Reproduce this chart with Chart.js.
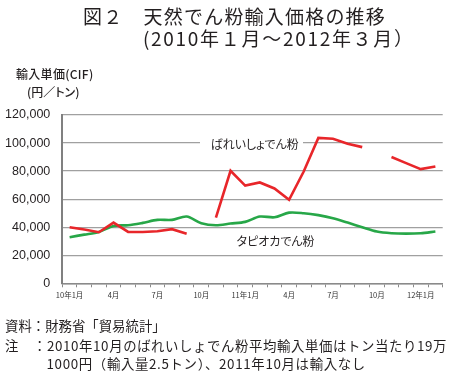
<!DOCTYPE html>
<html><head><meta charset="utf-8">
<script src="https://cdn.jsdelivr.net/npm/chart.js@4"></script>
<style>
html,body{margin:0;padding:0;background:#fff;}
#wrap{position:relative;width:451px;height:381px;overflow:hidden;font-family:"Noto Sans CJK JP",sans-serif;color:#231f20;}
canvas{position:absolute;left:0;top:0;}
.t{position:absolute;white-space:nowrap;line-height:1;}
.lab{font-size:12px;font-feature-settings:"palt";}
.ft{font-size:13.4px;}
</style></head><body>
<div id="wrap">
<canvas id="c" width="451" height="381"></canvas>
<div class="t" style="left:83px;top:5.5px;font-size:19px;font-weight:400;letter-spacing:1.2px;">図２　天然でん粉輸入価格の推移</div>
<div class="t" style="left:143px;top:27.5px;font-size:19px;font-weight:400;letter-spacing:1.7px;">(2010年１月～2012年３月）</div>
<div class="t" style="left:16px;top:68px;font-size:12px;font-weight:500;font-feature-settings:'palt';letter-spacing:0.3px;">輸入単価(CIF)</div>
<div class="t" style="left:27px;top:86px;font-size:12px;font-weight:500;font-feature-settings:'palt';">(円／トン)</div>
<div style="position:absolute;left:200px;top:140px;width:103px;height:7px;background:#fff;"></div>
<div class="t lab" style="left:210.5px;top:137.5px;">ばれいしょでん粉</div>
<div class="t lab" style="left:236.5px;top:235px;">タピオカでん粉</div>
<div class="t ft" style="left:5px;top:318.5px;">資料：財務省「貿易統計」</div>
<div class="t ft" style="left:5px;top:338.5px;letter-spacing:0.6px;">注　：2010年10月のばれいしょでん粉平均輸入単価はトン当たり19万</div>
<div class="t ft" style="left:46.5px;top:356.5px;letter-spacing:0.65px;">1000円（輸入量2.5トン）、2011年10月は輸入なし</div>
</div>
<script>
// Categories: Jan 2010 .. Feb 2012 (monthly)
const months = ['2010-01','2010-02','2010-03','2010-04','2010-05','2010-06','2010-07','2010-08','2010-09','2010-10','2010-11','2010-12',
                '2011-01','2011-02','2011-03','2011-04','2011-05','2011-06','2011-07','2011-08','2011-09','2011-10','2011-11','2011-12',
                '2012-01','2012-02'];
const tickLabels = ['10年1月','','','4月','','','7月','','','10月','','',
                    '11年1月','','','4月','','','7月','','','10月','','',
                    '12年1月',''];
// ばれいしょでん粉 (yen/ton); 2010-10 and 2011-10 omitted
const potatoStarch = [40000,38300,36400,43300,36600,36600,37100,38600,35400,null,46800,80200,
                      69700,71900,67600,59500,79700,103700,103100,99500,97100,null,90000,85700,
                      81400,83300];
// タピオカでん粉 (yen/ton)
const tapiocaStarch = [32900,34700,36600,40900,41400,43100,45200,45200,47600,42800,41400,42600,
                       43800,47600,47100,50400,50000,48600,46400,43300,40000,36900,35700,35400,
                       35700,36900];
const yTicks = [0,20000,40000,60000,80000,100000,120000];

new Chart(document.getElementById('c'), {
  type: 'line',
  data: {
    labels: months,
    datasets: [
      {label:'ばれいしょでん粉', data: potatoStarch, borderColor:'#e8262a', borderWidth:2.6, pointRadius:0, tension:0, spanGaps:false, fill:false},
      {label:'タピオカでん粉', data: tapiocaStarch, borderColor:'#27a748', borderWidth:2.6, pointRadius:0, tension:0.3, fill:false}
    ]
  },
  options: {
    responsive:false, animation:false, devicePixelRatio:1,
    layout:{padding:{top:115,left:0,right:8.3,bottom:77.7}},
    plugins:{legend:{display:false}, tooltip:{enabled:false}, title:{display:false}},
    scales:{
      x:{
        type:'category', offset:true,
        grid:{offset:true, drawOnChartArea:false, drawTicks:true, tickLength:4, color:'#8a8a8a', lineWidth:1},
        border:{display:true, color:'#8a8a8a', width:1.5},
        ticks:{autoSkip:false, maxRotation:0, minRotation:0, padding:3, color:'#333',
               font:{size:7.5, family:'"Liberation Sans Narrow","Noto Sans CJK JP",sans-serif'},
               callback:(v,i)=>tickLabels[i]},
        afterFit(s){ s.height = 20; }
      },
      y:{
        min:0, max:120000,
        afterBuildTicks(s){ s.ticks = yTicks.map(v=>({value:v})); },
        ticks:{padding:12, color:'#231f20', font:{size:12.5, family:'"Liberation Sans",Arial,sans-serif'},
               callback:v=>v.toLocaleString('en-US')},
        grid:{color:'#a0a0a0', lineWidth:1.3, drawTicks:false},
        border:{display:true, color:'#808080', width:2},
        afterFit(s){ s.width = 62.3; }
      }
    }
  }
});
</script>
</body></html>
